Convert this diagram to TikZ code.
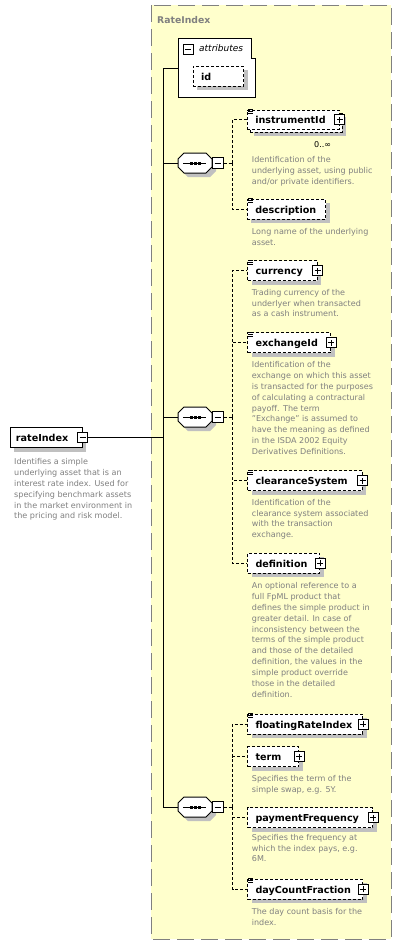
\documentclass[tikz,border=0pt]{standalone}
\usepackage{fontspec}
\setmainfont{DejaVu Sans}
\usetikzlibrary{shadows}
\definecolor{ybg}{HTML}{FFFFCC}
\definecolor{shgray}{HTML}{C0C0C0}
\definecolor{dgray}{HTML}{808080}
\newcommand\descfont{\fontsize{8.05}{10.9}\selectfont}
\newcommand\namefont{\bfseries\fontsize{9.6}{11}\selectfont}
\newcommand\dst{\rule{0pt}{7pt}}
\newcommand\nm[2]{\makebox[#1pt][l]{#2}}
\newcommand\sq{\symbol{34}}
\newcommand\simpicon[1]{\foreach \ii in {0,2,4}{\draw[line width=0.8pt] ([xshift=1pt,yshift=-\ii pt]#1.north west) -- ++(5,0);}}
\newcommand\octa[3]{%
  \begin{scope}[shift={(#2,#3)}]
    \fill[shgray] (-13,0) -- (-7,-6) -- (15,-6) -- (21,0) -- (21,8) -- (15,14) -- (-7,14) -- (-13,8) -- cycle;
    \filldraw[fill=white,draw=black,line width=1pt] (-17,-4) -- (-11,-10) -- (11,-10) -- (17,-4) -- (17,4) -- (11,10) -- (-11,10) -- (-17,4) -- cycle;
    \draw[line width=1pt] (-12,0) -- (11,0);
    \foreach \uu in {-4,0,4} \fill (\uu-1.5,-1.5) rectangle (\uu+1.5,1.5);
    \node[inner sep=0pt,minimum width=34pt,minimum height=20pt] (#1) at (0,0) {};
  \end{scope}}
\begin{document}
\begin{tikzpicture}[x=1pt,y=-1pt,
  conn/.style={draw=black,line width=1pt},
  dconn/.style={draw=black,line width=1pt,dash pattern=on 3pt off 2pt},
  shad/.style={drop shadow={shadow xshift=4pt,shadow yshift=-4pt,fill=shgray,opacity=1}},
  elembox/.style={draw=black,line width=1pt,fill=white,inner xsep=8pt,inner ysep=0pt,minimum height=20pt,text height=8pt,text depth=0pt,font=\namefont,anchor=center},
  optbox/.style={elembox,dash pattern=on 3pt off 2pt},
  pmbox/.style={draw=black,line width=1pt,fill=white,minimum size=10pt,inner sep=0pt},
  plusbox/.style={pmbox,path picture={\draw[line width=1pt] ([xshift=-3pt]path picture bounding box.center) -- ([xshift=3pt]path picture bounding box.center); \draw[line width=1pt] ([yshift=-3pt]path picture bounding box.center) -- ([yshift=3pt]path picture bounding box.center);}},
  minusbox/.style={pmbox,path picture={\draw[line width=1pt] ([xshift=-3pt]path picture bounding box.center) -- ([xshift=3pt]path picture bounding box.center);}},
  desc/.style={anchor=north west,inner sep=0pt,align=left,text=dgray,font=\descfont},
]
\fill[white] (0,0) rectangle (402,945);
\draw[draw=dgray,fill=ybg,line width=1pt,dash pattern=on 17pt off 7pt] (151,5) rectangle (391,939);
\node[anchor=base west,inner sep=0pt,font=\bfseries\fontsize{9.3}{11}\selectfont,text=dgray] (title) at (157,23) {RateIndex};

% spine
\coordinate (attrW) at (178,68.3);
\coordinate (sp) at (163.3,68.3);

% sequences
\octa{s1}{195}{163}
\octa{s2}{195}{417}
\octa{s3}{195}{807}
\node[minusbox,minimum size=11pt] (s1m) at ([xshift=5.5pt]s1.east) {};
\node[minusbox,minimum size=11pt] (s2m) at ([xshift=5.5pt]s2.east) {};
\node[minusbox,minimum size=11pt] (s3m) at ([xshift=5.5pt]s3.east) {};

% root element
\node[elembox,shad,inner xsep=6pt] (ri) at (46,437.5) {\nm{60}{rateIndex}};
\node[minusbox] (rim) at (ri.east) {};
\node[desc] (rid) at (14,457.2) {\dst Identifies a simple\\underlying asset that is an\\interest rate index. Used for\\specifying benchmark assets\\in the market environment in\\the pricing and risk model.};

\draw[conn] (attrW) -- (sp) |- (s3.west);
\draw[conn] (sp |- s1.west) -- (s1.west);
\draw[conn] (sp |- s2.west) -- (s2.west);
\draw[conn] (rim.east) -- (sp |- rim.east);

% attributes
\filldraw[fill=white,draw=black,line width=1pt] (178,38.3) -- (251.7,38.3) -- (251.7,58) -- (255.7,58) -- (255.7,97.3) -- (178,97.3) -- cycle;
\node[minusbox] (attm) at (188.3,49.5) {};
\node[anchor=base west,inner sep=0pt,font=\itshape\fontsize{9}{11}\selectfont] (attt) at (199,51.5) {attributes};
\node[optbox,shad] (id) at (218.25,76) {\nm{34.5}{id}};

% sequence 1
\node[optbox,shad,minimum height=19pt] (instrB) at (296.3,122.5) {\nm{76}{}};
\node[optbox,minimum height=19pt] (instr) at (293.3,119.5) {\nm{76}{instrumentId}};
\simpicon{instr}
\node[plusbox] (instrP) at (instr.east) {};
\node[anchor=base west,inner sep=0pt,font=\descfont] (occ) at (314,147) {0..∞};
\node[desc] (instrD) at (251.7,155.2) {\dst Identification of the\\underlying asset, using public\\and/or private identifiers.};

\node[optbox,shad] (descr) at (286.5,209.3) {\nm{62.4}{description}};
\simpicon{descr}
\node[desc] (descrD) at (251.7,226.9) {\dst Long name of the underlying\\asset.};

\coordinate (j1) at (232.5,163);
\draw[dconn] (s1m.east) -- (j1);
\draw[dconn] (j1) |- (instr.west);
\draw[dconn] (j1) |- (descr.west);

% sequence 2
\node[optbox,shad] (curr) at (282.25,270.5) {\nm{53.5}{currency}};
\simpicon{curr}
\node[plusbox] (currP) at (curr.east) {};
\node[desc] (currD) at (251.7,287.9) {\dst Trading currency of the\\underlyer when transacted\\as a cash instrument.};

\node[optbox,shad] (exch) at (289.1,342.5) {\nm{67.2}{exchangeId}};
\simpicon{exch}
\node[plusbox] (exchP) at (exch.east) {};
\node[desc] (exchD) at (251.7,360.2) {\dst Identification of the\\exchange on which this asset\\is transacted for the purposes\\of calculating a contractural\\payoff. The term\\\sq Exchange\sq{} is assumed to\\have the meaning as defined\\in the ISDA 2002 Equity\\Derivatives Definitions.};

\node[optbox,shad] (clear) at (304.75,480.5) {\nm{98.5}{clearanceSystem}};
\simpicon{clear}
\node[plusbox] (clearP) at (clear.east) {};
\node[desc] (clearD) at (251.7,497.9) {\dst Identification of the\\clearance system associated\\with the transaction\\exchange.};

\node[optbox,shad] (defn) at (283.5,563.3) {\nm{56}{definition}};
\node[plusbox] (defnP) at (defn.east) {};
\node[desc] (defnD) at (251.7,581.2) {\dst An optional reference to a\\full FpML product that\\defines the simple product in\\greater detail. In case of\\inconsistency between the\\terms of the simple product\\and those of the detailed\\definition, the values in the\\simple product override\\those in the detailed\\definition.};

\coordinate (j2) at (232.5,417);
\draw[dconn] (s2m.east) -- (j2);
\draw[dconn] (j2) |- (curr.west);
\draw[dconn] (j2) |- (exch.west);
\draw[dconn] (j2) |- (clear.west);
\draw[dconn] (j2) |- (defn.west);

% sequence 3
\node[optbox,shad] (flt) at (305.1,724) {\nm{99.2}{floatingRateIndex}};
\simpicon{flt}
\node[plusbox] (fltP) at (flt.east) {};

\node[optbox,shad] (term) at (273,756.7) {\nm{35}{term}};
\node[plusbox] (termP) at (term.east) {};
\node[desc] (termD) at (251.7,774.5) {\dst Specifies the term of the\\simple swap, e.g. 5Y.};

\node[optbox,shad] (pay) at (310.15,817.5) {\nm{109.3}{paymentFrequency}};
\node[plusbox] (payP) at (pay.east) {};
\node[desc] (payD) at (251.7,832.9) {\dst Specifies the frequency at\\which the index pays, e.g.\\6M.};

\node[optbox,shad] (dcf) at (305.1,889.3) {\nm{99.2}{dayCountFraction}};
\simpicon{dcf}
\node[plusbox] (dcfP) at (dcf.east) {};
\node[desc] (dcfD) at (251.7,906.9) {\dst The day count basis for the\\index.};

\coordinate (j3) at (232.5,807);
\draw[dconn] (s3m.east) -- (j3);
\draw[dconn] (j3) |- (flt.west);
\draw[dconn] (j3) |- (term.west);
\draw[dconn] (j3) |- (pay.west);
\draw[dconn] (j3) |- (dcf.west);
\end{tikzpicture}
\end{document}
